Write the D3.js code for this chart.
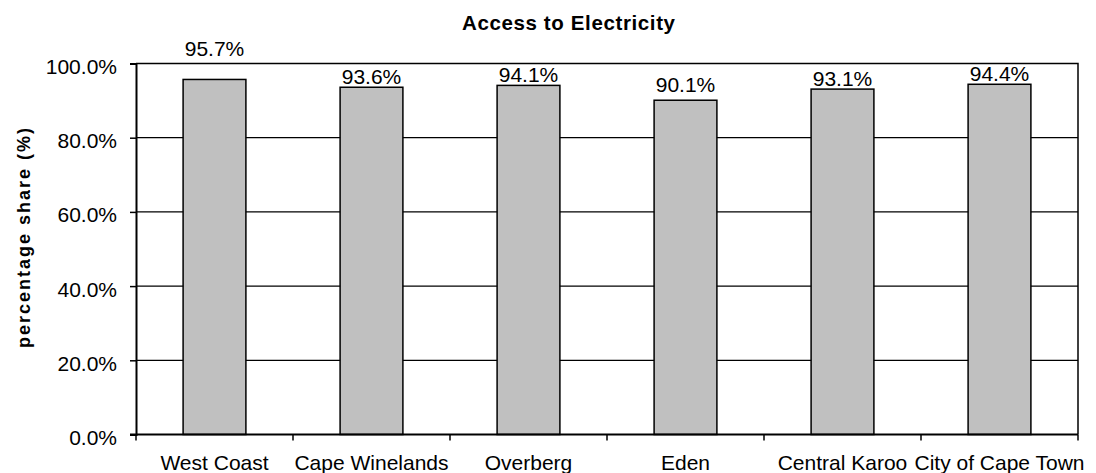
<!DOCTYPE html>
<html>
<head>
<meta charset="utf-8">
<script src="https://cdn.jsdelivr.net/npm/d3@7"></script>
<style>
  html, body { margin: 0; padding: 0; background: #fff; }
  svg { display: block; font-family: "Liberation Sans", Arial, sans-serif; }
</style>
</head>
<body>
<svg id="chart" width="1096" height="473"></svg>
<script>
// Share of households with access to electricity, by district
const districts = ["West Coast", "Cape Winelands", "Overberg", "Eden", "Central Karoo", "City of Cape Town"];
const accessShare = [0.957, 0.936, 0.941, 0.901, 0.931, 0.944];
const yTicks = [0, 0.2, 0.4, 0.6, 0.8, 1.0];

const chartTitle = "Access to Electricity";
const yAxisTitle = "percentage share (%)";

const svg = d3.select("#chart");
const plot = { left: 136, right: 1078, top: 63.5, bottom: 434.5 };

const x = d3.scaleBand()
  .domain(districts)
  .range([plot.left, plot.right])
  .paddingInner(0.6)
  .paddingOuter(0.3);

const y = d3.scaleLinear()
  .domain([0, 1])
  .range([plot.bottom, plot.top]);

const fmt = d3.format(".1%");

// Horizontal gridlines
svg.append("g")
  .selectAll("line")
  .data(yTicks.filter(v => v > 0 && v < 1))
  .join("line")
  .attr("x1", plot.left).attr("x2", plot.right)
  .attr("y1", d => y(d)).attr("y2", d => y(d))
  .attr("stroke", "#000").attr("stroke-width", 1.2);

// Top and right plot border
svg.append("path")
  .attr("d", `M${plot.left},${y(1)}H${plot.right}V${plot.bottom}`)
  .attr("fill", "none").attr("stroke", "#000").attr("stroke-width", 1.5);

// Bars
svg.append("g")
  .selectAll("rect")
  .data(accessShare)
  .join("rect")
  .attr("x", (d, i) => x(districts[i]))
  .attr("width", x.bandwidth())
  .attr("y", d => y(d))
  .attr("height", d => y(0) - y(d))
  .attr("fill", "#c0c0c0")
  .attr("stroke", "#000")
  .attr("stroke-width", 1.5);

// Value labels above each bar
svg.append("g")
  .selectAll("text")
  .data(accessShare)
  .join("text")
  .attr("x", (d, i) => x(districts[i]) + x.bandwidth() / 2)
  .attr("y", d => {
    const top = y(d);
    if (top - 18 < plot.top) return plot.top - 8;   // no room under the border
    return top - (top > 95 ? 8 : 3);
  })
  .attr("text-anchor", "middle")
  .attr("font-size", 21)
  .attr("fill", "#000")
  .text(d => fmt(d));

// Y axis
const yAxis = svg.append("g")
  .attr("transform", `translate(${plot.left},0)`)
  .call(d3.axisLeft(y).tickValues(yTicks).tickFormat(fmt).tickSize(6).tickPadding(13));
yAxis.select(".domain").attr("stroke", "#000").attr("stroke-width", 2);
yAxis.selectAll(".tick line").attr("stroke", "#000").attr("stroke-width", 1.5);
yAxis.selectAll(".tick text")
  .attr("font-size", 21)
  .attr("font-family", "Liberation Sans, Arial, sans-serif")
  .attr("fill", "#000")
  .attr("dy", null)
  .attr("y", 10);

// X axis: tick marks at category boundaries, labels under each band
const bounds = d3.range(districts.length + 1).map(i => plot.left + i * x.step());
const xAxis = svg.append("g");
xAxis.append("line")
  .attr("x1", plot.left - 6).attr("x2", plot.right)
  .attr("y1", plot.bottom).attr("y2", plot.bottom)
  .attr("stroke", "#000").attr("stroke-width", 2);
xAxis.selectAll("line.tick")
  .data(bounds)
  .join("line")
  .attr("class", "tick")
  .attr("x1", d => d).attr("x2", d => d)
  .attr("y1", plot.bottom).attr("y2", plot.bottom + 6)
  .attr("stroke", "#000").attr("stroke-width", 1.5);
xAxis.selectAll("text")
  .data(districts)
  .join("text")
  .attr("x", d => x(d) + x.bandwidth() / 2)
  .attr("y", plot.bottom + 35.5)
  .attr("text-anchor", "middle")
  .attr("font-size", 21)
  .attr("fill", "#000")
  .text(d => d);

// Chart title
svg.append("text")
  .attr("x", 568.5)
  .attr("y", 30)
  .attr("text-anchor", "middle")
  .attr("font-size", 20.5)
  .attr("font-weight", "bold")
  .attr("textLength", 213)
  .attr("lengthAdjust", "spacing")
  .text(chartTitle);

// Y axis title
svg.append("text")
  .attr("transform", `translate(30,238) rotate(-90)`)
  .attr("text-anchor", "middle")
  .attr("font-size", 18)
  .attr("font-weight", "bold")
  .attr("textLength", 220)
  .attr("lengthAdjust", "spacing")
  .text(yAxisTitle);
</script>
</body>
</html>
